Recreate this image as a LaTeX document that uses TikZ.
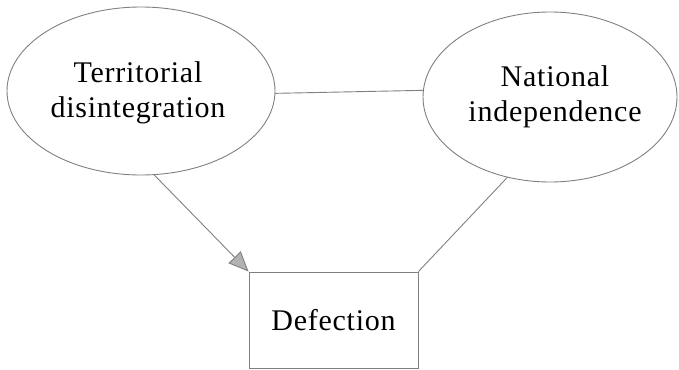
\documentclass[tikz,border=0pt]{standalone}
\usepackage{fontspec}
\setmainfont{Liberation Serif}[LetterSpace=2.5]
\usetikzlibrary{shapes.geometric,arrows.meta}
\begin{document}
\begin{tikzpicture}[x=1pt,y=-1pt,
  line/.style={draw=black!50, line width=0.9pt},
  txt/.style={align=center, inner sep=0pt, font=\fontsize{30}{35}\selectfont},
  oval/.style={ellipse, draw=black!50, line width=0.9pt, inner sep=0pt},
  box/.style={rectangle, draw=black!50, line width=0.9pt, inner sep=0pt,
     minimum width=169pt, minimum height=96pt, font=\fontsize{30}{35}\selectfont}]
\useasboundingbox (0,0) rectangle (679,369);
\node[oval, minimum width=268pt, minimum height=168pt] (L) at (141,91) {};
\node[txt] (Lt) at (138,93) {Territorial\\disintegration};
\node[oval, minimum width=254pt, minimum height=170pt] (R) at (550,97) {};
\node[txt] (Rt) at (555,97) {National\\independence};
\node[box] (D) at (333.5,320) {Defection};
\draw[line] (L.-1) -- (R.177);
\draw[line, -{Triangle[length=20pt,width=17pt,fill=black!30]}] (L.-81) -- (D.north west);
\draw[line] (R.-118) -- (D.north east);
\end{tikzpicture}
\end{document}
